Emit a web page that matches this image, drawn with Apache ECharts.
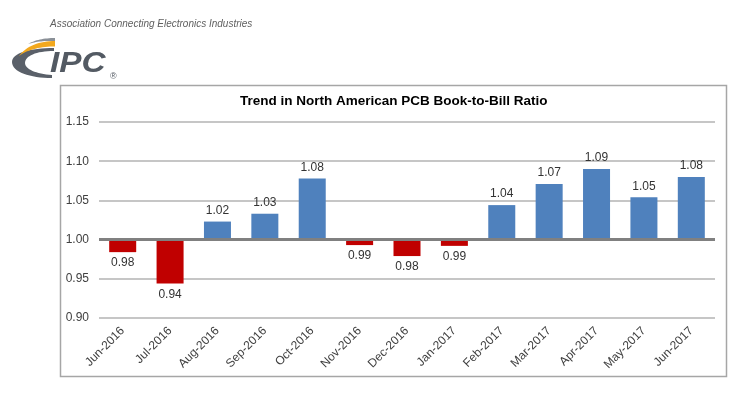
<!DOCTYPE html>
<html>
<head>
<meta charset="utf-8">
<script src="https://cdn.jsdelivr.net/npm/echarts@6/dist/echarts.min.js"></script>
<style>
html,body{margin:0;padding:0;background:#fff;}
#chart{width:750px;height:395px;}
</style>
</head>
<body>
<div id="chart"></div>
<script>
const categories = ['Jun-2016','Jul-2016','Aug-2016','Sep-2016','Oct-2016','Nov-2016','Dec-2016','Jan-2017','Feb-2017','Mar-2017','Apr-2017','May-2017','Jun-2017'];
const ratios = [0.984, 0.944, 1.023, 1.033, 1.078, 0.993, 0.979, 0.992, 1.044, 1.071, 1.090, 1.054, 1.080];
const baseline = 1.00;
const yTicks = ['0.90','0.95','1.00','1.05','1.10','1.15'];
const titleText = 'Trend in North American PCB Book-to-Bill Ratio';

const chart = echarts.init(document.getElementById('chart'), null, {renderer:'canvas'});
const FONT = 'Liberation Sans, Arial, sans-serif';

// logo helper: sample cubic bezier segments into polygon points
function bez(p0, p1, p2, p3, n){
  const pts = [];
  for (let i = 0; i <= n; i++){
    const t = i / n, u = 1 - t;
    pts.push([
      u*u*u*p0[0] + 3*u*u*t*p1[0] + 3*u*t*t*p2[0] + t*t*t*p3[0],
      u*u*u*p0[1] + 3*u*u*t*p1[1] + 3*u*t*t*p2[1] + t*t*t*p3[1]
    ]);
  }
  return pts;
}
function shape(segs){
  let pts = [];
  segs.forEach(function(s){ pts = pts.concat(bez(s[0], s[1], s[2], s[3], 16)); });
  return pts;
}
const crescent = shape([
  [[54,48],[30,48],[12,53],[12,62]],
  [[12,62],[12,72],[30,78],[52,78]],
  [[52,75],[36,74],[25,69],[25,63]],
  [[25,63],[25,56],[36,51],[54,51]]
]);
const orange = shape([
  [[55,41],[40,41],[26,46],[19,56]],
  [[19,56],[28,49],[42,46.5],[55,46.5]]
]);
const grayTop = shape([
  [[55,38],[44,38],[35,40],[28,44]],
  [[28,44],[36,41.5],[46,40.5],[55,41]]
]);

const seriesData = ratios.map(function(v){
  const d = +(v - baseline).toFixed(4);
  return {
    value: d,
    itemStyle: {color: d < 0 ? '#C00000' : '#4F81BD'},
    label: {position: d < 0 ? 'bottom' : 'top'}
  };
});

chart.setOption({
  animation: false,
  backgroundColor: '#ffffff',
  title: {
    text: titleText,
    left: 235, top: 89,
    textStyle: {fontFamily: FONT, fontSize: 13.5, fontWeight: 'bold', color: '#000'}
  },
  grid: {left: 99, right: 35, top: 122, bottom: 77},
  xAxis: {
    type: 'category',
    data: categories,
    axisLine: {show: false},
    axisTick: {show: false},
    axisLabel: {rotate: 45, margin: 11, fontFamily: FONT, fontSize: 12, color: '#404040', interval: 0}
  },
  yAxis: {
    type: 'value',
    min: -0.1, max: 0.15, interval: 0.05,
    axisLine: {show: false},
    axisTick: {show: false},
    axisLabel: {
      margin: 10, fontFamily: FONT, fontSize: 12, color: '#404040',
      formatter: function(v){ const i = Math.round((v + 0.1) / 0.05); return yTicks[i] !== undefined ? yTicks[i] : (v + baseline).toFixed(2); }
    },
    splitLine: {lineStyle: {color: '#b3b3b3', width: 1.5}}
  },
  series: [{
    type: 'bar',
    data: seriesData,
    barWidth: '57%',
    label: {
      show: true, distance: 5, fontFamily: FONT, fontSize: 12, color: '#333',
      formatter: function(p){ return ratios[p.dataIndex].toFixed(2); }
    },
    markLine: {
      silent: true, symbol: 'none',
      label: {show: false},
      lineStyle: {color: '#808080', width: 3, type: 'solid'},
      data: [{yAxis: 0}]
    }
  }],
  graphic: [
    {type: 'rect', shape: {x: 60.5, y: 85.5, width: 666, height: 291}, style: {fill: 'none', stroke: '#a6a6a6', lineWidth: 1.5}, z: -1},
    {type: 'text', x: 50, y: 19, style: {text: 'Association Connecting Electronics Industries', font: 'italic 10px ' + FONT, fill: '#5f5f5f'}},
    {type: 'polygon', shape: {points: crescent}, style: {fill: '#5a6069'}},
    {type: 'polygon', shape: {points: orange}, style: {fill: '#f2a81d'}},
    {type: 'polygon', shape: {points: grayTop}, style: {fill: '#8a9097'}},
    {type: 'text', x: 50, y: 64, scaleX: 1.15, style: {text: 'IPC', font: 'italic bold 29px ' + FONT, fill: '#535a63', verticalAlign: 'middle'}},
    {type: 'text', x: 110, y: 72, style: {text: '®', font: '9px ' + FONT, fill: '#535a63'}}
  ]
});
</script>
</body>
</html>
